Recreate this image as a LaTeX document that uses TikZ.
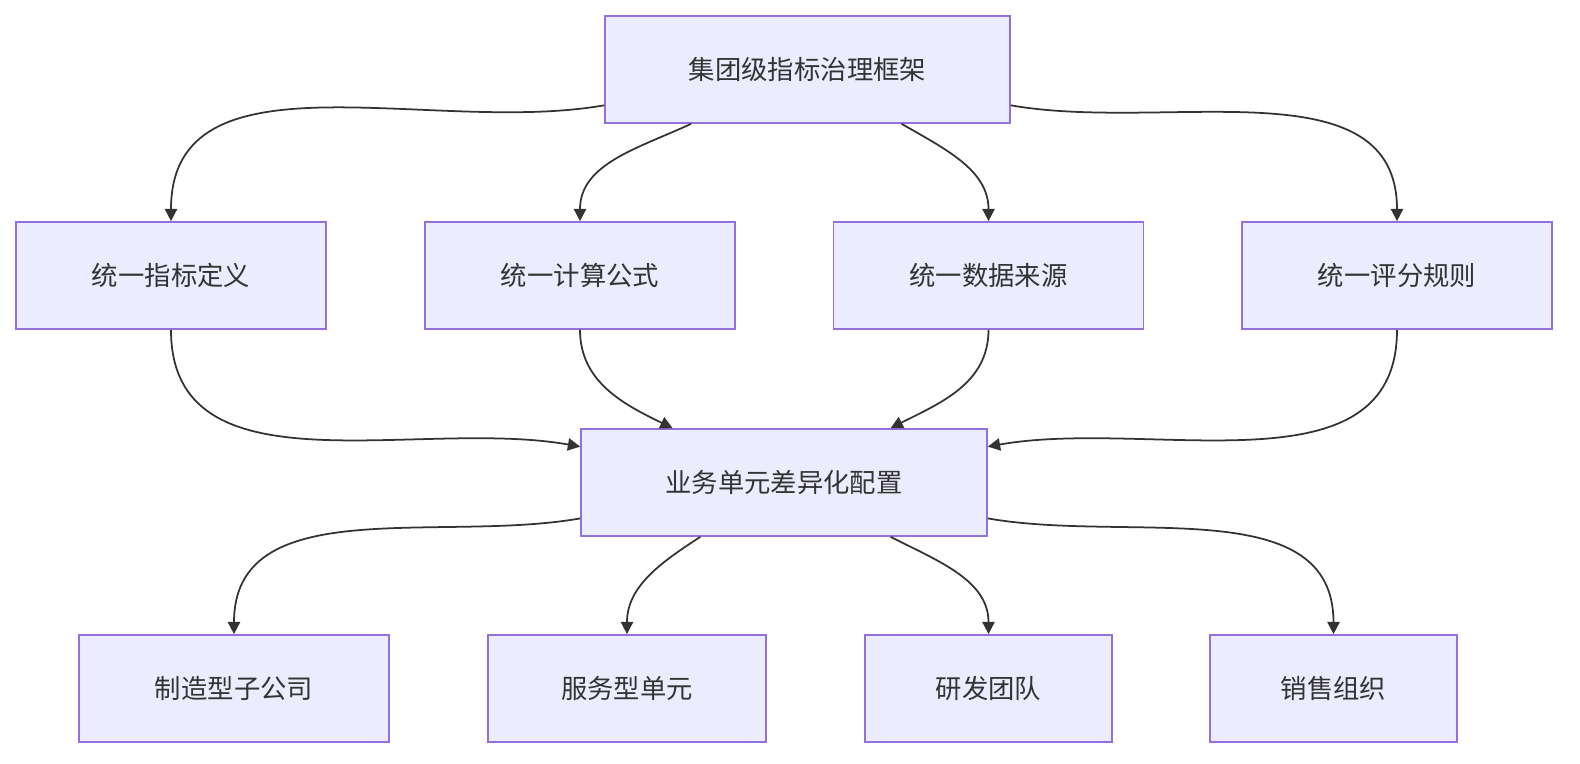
\documentclass[tikz,border=0pt]{standalone}
\usepackage{fontspec}
\setmainfont{Noto Sans CJK SC}
\usetikzlibrary{arrows.meta,positioning}
\definecolor{boxfill}{HTML}{ECECFF}
\definecolor{boxline}{HTML}{9370DB}
\definecolor{edge}{HTML}{333333}
\tikzset{
  box/.style={rectangle, draw=boxline, fill=boxfill, line width=1pt, minimum height=2.14cm,
    font=\fontsize{15}{18}\selectfont, text=edge},
  arr/.style={-{Triangle[length=7pt,width=7pt]}, draw=edge, line width=1pt}
}
\begin{document}
\begin{tikzpicture}[x=0.02cm, y=-0.02cm]
    \useasboundingbox (0,0) rectangle (1580,764);
    % top
    \node [box, minimum width=8.1cm] (frame) at (807.5,69.5) {集团级指标治理框架};
    % unified rules
    \node [box, minimum width=6.2cm] (def) at (171,275.5) {统一指标定义};
    \node [box, minimum width=6.2cm] (calc) at (580,275.5) {统一计算公式};
    \node [box, minimum width=6.2cm] (src) at (988.5,275.5) {统一数据来源};
    \node [box, minimum width=6.2cm] (score) at (1397,275.5) {统一评分规则};
    % configuration
    \node [box, minimum width=8.12cm] (config) at (784,482.5) {业务单元差异化配置};
    % units
    \node [box, minimum width=6.2cm] (mfg) at (234,688.5) {制造型子公司};
    \node [box, minimum width=5.56cm] (svc) at (627,688.5) {服务型单元};
    \node [box, minimum width=4.94cm] (rnd) at (988.5,688.5) {研发团队};
    \node [box, minimum width=4.94cm] (sales) at (1333.5,688.5) {销售组织};
    % arrows
    \draw [arr] (frame) to[out=190, in=90] (def.north);
    \draw [arr] (frame) to[out=205, in=90] (calc.north);
    \draw [arr] (frame) to[out=330, in=90] (src.north);
    \draw [arr] (frame) to[out=350, in=90] (score.north);
    \draw [arr] (def.south) to[out=-90, in=170] (config);
    \draw [arr] (calc.south) to[out=-90, in=154] (config);
    \draw [arr] (src.south) to[out=-90, in=27] (config);
    \draw [arr] (score.south) to[out=-90, in=10] (config);
    \draw [arr] (config) to[out=190, in=90] (mfg.north);
    \draw [arr] (config) to[out=213, in=90] (svc.north);
    \draw [arr] (config) to[out=333, in=90] (rnd.north);
    \draw [arr] (config) to[out=350, in=90] (sales.north);
\end{tikzpicture}
\end{document}
